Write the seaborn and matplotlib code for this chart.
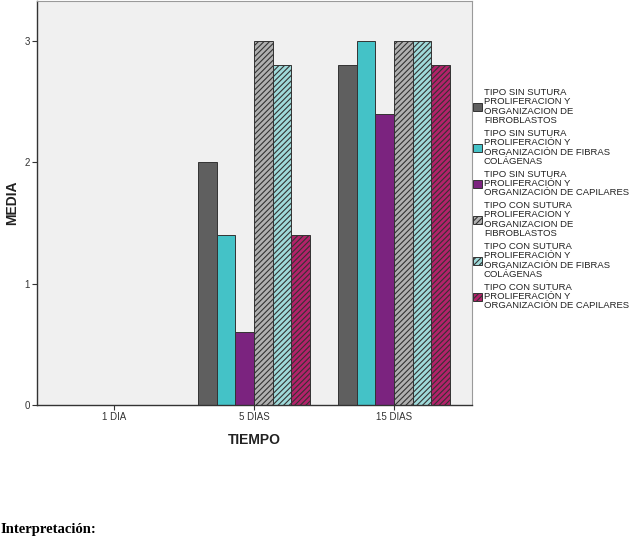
import matplotlib
matplotlib.use("Agg")
import matplotlib.pyplot as plt
from matplotlib.patches import Patch
import seaborn as sns
import pandas as pd

tiempos = ["1 DIA", "5 DIAS", "15 DIAS"]
series = [
    "TIPO SIN SUTURA\nPROLIFERACION Y\nORGANIZACION DE\nFIBROBLASTOS",
    "TIPO SIN SUTURA\nPROLIFERACIÓN Y\nORGANIZACIÓN DE FIBRAS\nCOLÁGENAS",
    "TIPO SIN SUTURA\nPROLIFERACIÓN Y\nORGANIZACIÓN DE CAPILARES",
    "TIPO CON SUTURA\nPROLIFERACION Y\nORGANIZACION DE\nFIBROBLASTOS",
    "TIPO CON SUTURA\nPROLIFERACIÓN Y\nORGANIZACIÓN DE FIBRAS\nCOLÁGENAS",
    "TIPO CON SUTURA\nPROLIFERACIÓN Y\nORGANIZACIÓN DE CAPILARES",
]
valores = [
    [0.0, 2.0, 2.8],
    [0.0, 1.4, 3.0],
    [0.0, 0.6, 2.4],
    [0.0, 3.0, 3.0],
    [0.0, 2.8, 3.0],
    [0.0, 1.4, 2.8],
]
colores = ["#5f5f5f", "#44c2c7", "#7b237f", "#b0b0b0", "#9fdada", "#b3226a"]
hatches = [None, None, None, "//////", "//////", "//////"]

rows = []
for s, vals in zip(series, valores):
    for t, v in zip(tiempos, vals):
        rows.append({"TIEMPO": t, "serie": s, "MEDIA": v})
df = pd.DataFrame(rows)

sns.set_style("white")
plt.rcParams["font.family"] = ["Liberation Sans", "DejaVu Sans"]
plt.rcParams["hatch.linewidth"] = 0.8

fig = plt.figure(figsize=(6.33, 5.58), dpi=100)
fig.patch.set_facecolor("white")
ax = fig.add_axes([37/633, 1-405/558, (472-37)/633, 404/558])
ax.set_facecolor("#f0f0f0")

sns.barplot(data=df, x="TIEMPO", y="MEDIA", hue="serie", order=tiempos,
            hue_order=series, palette=colores, width=0.8, legend=False,
            saturation=1, edgecolor="#333333", linewidth=0.7, ax=ax,
            errorbar=None)

for cont, h in zip(ax.containers, hatches):
    for p in cont:
        if h:
            p.set_hatch(h)
        if p.get_height() == 0:
            p.set_linewidth(0)

ax.set_xlim(-0.55, 2.557)
ax.set_ylim(0, 3.33)
ax.set_yticks([0, 1, 2, 3])
ax.set_yticklabels(["0", "1", "2", "3"])
ax.tick_params(axis="both", which="both", direction="out", length=3.5,
               width=0.8, color="#333333", labelsize=7, labelcolor="#333333",
               pad=1.5, left=True, bottom=True)
for side in ["left", "bottom"]:
    ax.spines[side].set_color("#333333")
    ax.spines[side].set_linewidth(1.0)
for side in ["top", "right"]:
    ax.spines[side].set_color("#9a9a9a")
    ax.spines[side].set_linewidth(0.8)

ax.set_xlabel("TIEMPO", fontsize=10, fontweight="bold", color="#222222", labelpad=8)
ax.set_ylabel("MEDIA", fontsize=10, fontweight="bold", color="#222222", labelpad=4)

handles = [Patch(facecolor=c, edgecolor="#333333", hatch=(h if h else ""), linewidth=0.7)
           for c, h in zip(colores, hatches)]
leg = fig.legend(handles, series, loc="upper left",
                 bbox_to_anchor=(473/633, 1-88/558), frameon=False,
                 fontsize=6.8, handlelength=0.9, handleheight=0.9,
                 handletextpad=0.25, labelspacing=0.4, borderpad=0,
                 borderaxespad=0)
for t in leg.get_texts():
    t.set_linespacing(1.05)
    t.set_color("#222222")

fig.text(0.0, 1-530/558, "Interpretación:", fontsize=10.5, fontweight="bold",
         family=["Liberation Serif", "DejaVu Serif"], va="center", ha="left",
         color="black")

fig.savefig("out.png", dpi=100)
